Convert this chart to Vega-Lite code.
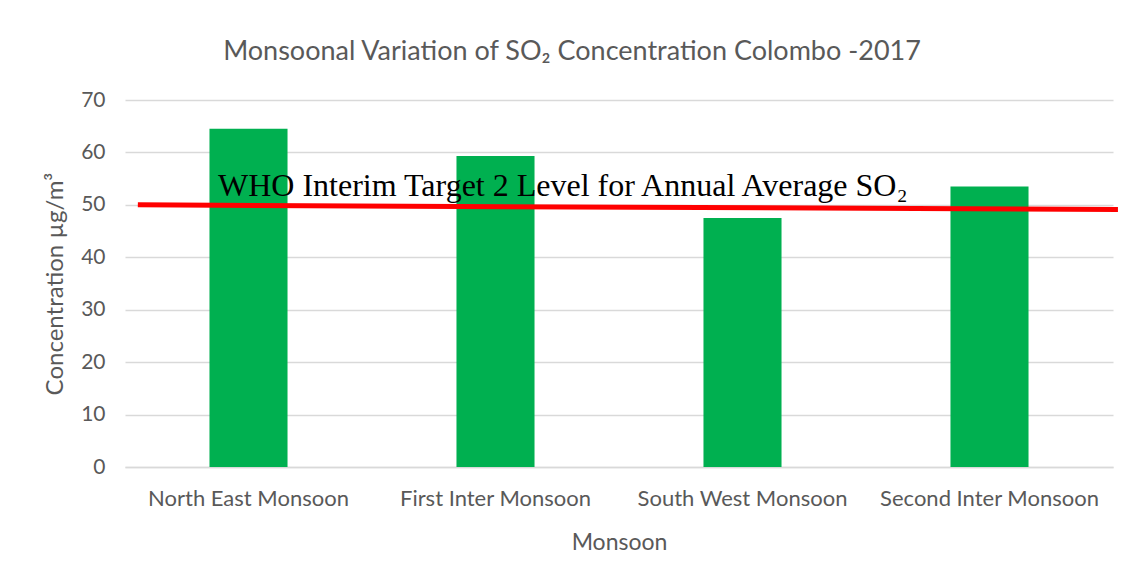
{
  "$schema": "https://vega.github.io/schema/vega-lite/v6.json",
  "width": 988,
  "height": 367,
  "autosize": {"type": "none"},
  "padding": {"left": 125, "top": 100, "right": 18, "bottom": 113},
  "background": "white",
  "config": {
    "view": {"stroke": null},
    "font": "Lato"
  },
  "title": {
    "text": "Monsoonal Variation of SO₂ Concentration Colombo -2017",
    "font": "Lato",
    "fontSize": 27,
    "fontWeight": "normal",
    "color": "#595959",
    "anchor": "middle",
    "dx": -47,
    "offset": 23
  },
  "datasets": {
    "bars": [
      {"monsoon": "North East Monsoon", "value": 64.5},
      {"monsoon": "First Inter Monsoon", "value": 59.3},
      {"monsoon": "South West Monsoon", "value": 47.5},
      {"monsoon": "Second Inter Monsoon", "value": 53.5}
    ],
    "who": [
      {"pos": 0.013, "level": 50, "pos2": 1.005, "level2": 49.1, "label": "WHO Interim Target 2 Level for Annual Average SO₂"}
    ]
  },
  "layer": [
    {
      "data": {"name": "bars"},
      "mark": {"type": "bar", "color": "#00B050"},
      "encoding": {
        "x": {
          "field": "monsoon",
          "type": "nominal",
          "sort": null,
          "scale": {"paddingInner": 0.684, "paddingOuter": 0.342},
          "axis": {
            "title": "Monsoon",
            "titleFont": "Lato",
            "titleFontSize": 23,
            "titleFontWeight": "normal",
            "titleColor": "#595959",
            "titlePadding": 22,
            "labelFont": "Lato",
            "labelFontSize": 22,
            "labelLimit": 0,
            "labelColor": "#595959",
            "labelAngle": 0,
            "labelPadding": 21,
            "ticks": false,
            "domainColor": "#D9D9D9",
            "domainWidth": 1.5
          }
        },
        "y": {
          "field": "value",
          "type": "quantitative",
          "scale": {"domain": [0, 70]},
          "axis": {
            "title": "Concentration µg/m³",
            "titleFont": "Lato",
            "titleFontSize": 24,
            "titleFontWeight": "normal",
            "titleColor": "#595959",
            "titlePadding": 13,
            "labelFont": "Lato",
            "labelFontSize": 21,
            "labelColor": "#595959",
            "labelPadding": 20,
            "values": [0, 10, 20, 30, 40, 50, 60, 70],
            "tickCount": 8,
            "ticks": false,
            "domain": false,
            "gridColor": "#D9D9D9",
            "gridWidth": 1.5
          }
        }
      }
    },
    {
      "data": {"name": "who"},
      "layer": [
        {
          "mark": {"type": "rule", "color": "#FF0000", "strokeWidth": 5, "clip": false},
          "encoding": {
            "x": {"field": "pos", "type": "quantitative", "scale": {"domain": [0, 1]}, "axis": null},
            "x2": {"field": "pos2"},
            "y": {"field": "level", "type": "quantitative", "axis": null},
            "y2": {"field": "level2"}
          }
        },
        {
          "mark": {"type": "text", "font": "Liberation Serif", "fontSize": 32, "color": "black", "align": "left", "baseline": "alphabetic", "dx": 93, "dy": -9},
          "encoding": {
            "x": {"value": 0},
            "y": {"field": "level", "type": "quantitative", "axis": null},
            "text": {"field": "label"}
          }
        }
      ],
      "resolve": {"axis": {"y": "independent"}}
    }
  ],
  "resolve": {"scale": {"x": "independent"}, "axis": {"y": "independent"}}
}
